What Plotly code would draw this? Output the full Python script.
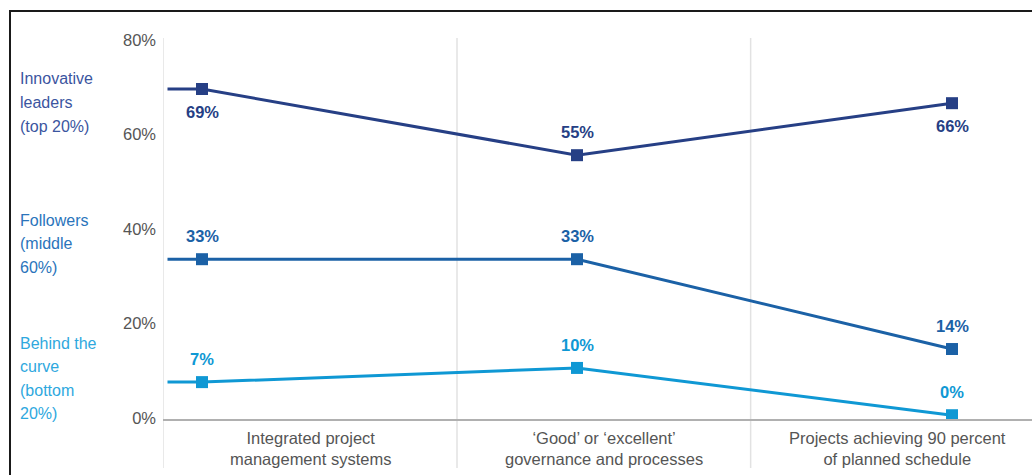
import plotly.graph_objects as go

# ---- data -------------------------------------------------------------
categories = [
    "Integrated project<br>management systems",
    "\u2018Good\u2019 or \u2018excellent\u2019<br>governance and processes",
    "Projects achieving 90 percent<br>of planned schedule",
]
leaders = [69, 55, 66]
followers = [33, 33, 14]
behind = [7, 10, 0]

series_names = ["Innovative leaders (top 20%)", "Followers (middle 60%)", "Behind the curve (bottom 20%)"]
series_label_lines = [
    ["Innovative", "leaders", "(top 20%)"],
    ["Followers", "(middle", "60%)"],
    ["Behind the", "curve", "(bottom", "20%)"],
]
y_ticks = [0, 20, 40, 60, 80]

# ---- styling / layout constants -----------------------------------------
W, H = 1032, 475
M_L, M_R, M_T, M_B = 163, 0, 37, 56
PLOT_W = W - M_L - M_R
PLOT_H = H - M_T - M_B

colors = ["#263f85", "#1b61a6", "#0f98d4"]
label_colors = ["#3b55a0", "#2a74bb", "#2ea8de"]
# value-label placement: +1 below the marker, -1 above
label_side = [[1, -1, 1], [-1, -1, -1], [-1, -1, -1]]

X_RANGE = [-0.104, 2.2133]
Y_RANGE = [-0.8, 80]
LINE_START = -0.092                       # lines run in from the value axis
BAND_EDGES = [-0.104, 0.680, 1.463, 2.246]  # category columns
BAND_CENTERS = [(a + b) / 2 for a, b in zip(BAND_EDGES[:-1], BAND_EDGES[1:])]


def paper_x(px):
    return (px - M_L) / PLOT_W


def paper_y(py):
    return (H - M_B - py) / PLOT_H


FONT = "Liberation Sans, Arial, sans-serif"

fig = go.Figure()

all_series = [leaders, followers, behind]
x_pos = list(range(len(categories)))

for name, vals, col in zip(series_names, all_series, colors):
    # lead-in segment from the axis to the first category
    fig.add_trace(go.Scatter(
        x=[LINE_START] + x_pos, y=[vals[0]] + vals,
        mode="lines", line=dict(color=col, width=3),
        hoverinfo="skip", showlegend=False,
    ))
    fig.add_trace(go.Scatter(
        x=x_pos, y=vals, name=name,
        mode="markers", marker=dict(symbol="square", size=12, color=col),
        showlegend=False,
    ))

annotations = []

# value labels
for vals, col, sides in zip(all_series, colors, label_side):
    for xi, v, s in zip(x_pos, vals, sides):
        annotations.append(dict(
            x=xi, y=v, xref="x", yref="y", text=f"<b>{v}%</b>",
            showarrow=False, yshift=-23 * s,
            font=dict(family=FONT, size=16.5, color=col),
        ))

# category labels under the axis
for cx, cat in zip(BAND_CENTERS, categories):
    annotations.append(dict(
        x=cx, y=paper_y(426.5), xref="x", yref="paper", text=cat,
        showarrow=False, xanchor="center", yanchor="top",
        font=dict(family=FONT, size=16.5, color="#555555"),
    ))

# series names at the left
label_top = [79, 220, 343]
LINE_STEP = 23.5
for lines, top, col in zip(series_label_lines, label_top, label_colors):
    for i, ln in enumerate(lines):
        annotations.append(dict(
            x=paper_x(18), y=paper_y(top + i * LINE_STEP), xref="paper", yref="paper",
            text=ln, showarrow=False, xanchor="left", yanchor="middle",
            font=dict(family=FONT, size=16, color=col),
        ))

shapes = []
# value axis line and column separators, running down through the category labels
for i, ex in enumerate(BAND_EDGES[:-1]):
    shapes.append(dict(
        type="line", xref="x", yref="paper",
        x0=ex, x1=ex, y0=paper_y(468), y1=paper_y(38),
        line=dict(color="#e2e2e2", width=1.5), layer="below",
    ))
# outer frame
shapes.append(dict(
    type="rect", xref="paper", yref="paper",
    x0=paper_x(10), x1=paper_x(W + 20), y0=paper_y(H + 20), y1=paper_y(11),
    line=dict(color="#1a1a1a", width=2), fillcolor="rgba(0,0,0,0)",
))

fig.update_layout(
    width=W, height=H,
    margin=dict(l=M_L, r=M_R, t=M_T, b=M_B, pad=0),
    paper_bgcolor="white", plot_bgcolor="white",
    showlegend=False,
    annotations=annotations,
    shapes=shapes,
    xaxis=dict(
        range=X_RANGE, showgrid=False, zeroline=False, showticklabels=False,
        showline=True, linecolor="#b0b0b0", linewidth=2, ticks="",
        fixedrange=True,
    ),
    yaxis=dict(
        range=Y_RANGE, tickvals=y_ticks, ticktext=[f"{t}%" for t in y_ticks],
        showgrid=False, zeroline=False, showline=False, ticks="",
        tickfont=dict(family=FONT, size=16.5, color="#555555"),
        ticklabelstandoff=6, ticklabelshift=3,
        fixedrange=True,
    ),
)

fig.write_html("out.html")
